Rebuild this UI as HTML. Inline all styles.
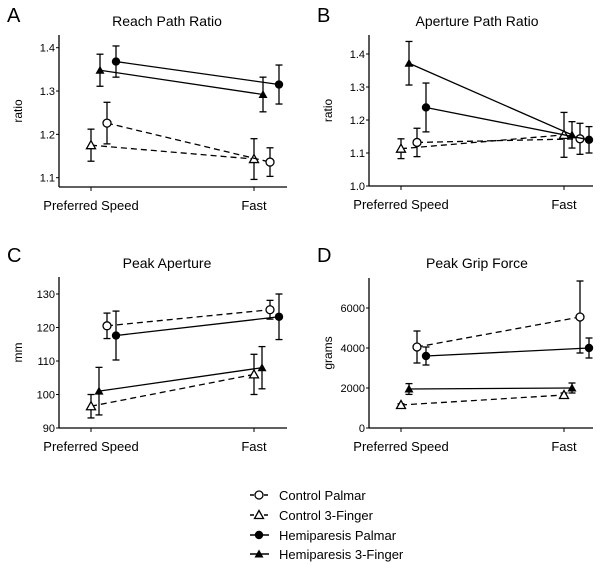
<!DOCTYPE html>
<html><head><meta charset="utf-8"><style>
body{margin:0;background:#fff;}
svg{display:block;font-family:"Liberation Sans",Arial,sans-serif;}
</style></head><body>
<svg id="fig" width="602" height="569" viewBox="0 0 602 569"></svg>
<script>
const categories = ["Preferred Speed","Fast"];
const seriesNames = ["Control Palmar","Control 3-Finger","Hemiparesis Palmar","Hemiparesis 3-Finger"];
// panel A
const aOpenCircle=[1.226,1.136], aOpenCircleErr=[0.048,0.033];
const aOpenTri=[1.175,1.143], aOpenTriErr=[0.037,0.047];
const aFilledCircle=[1.368,1.315], aFilledCircleErr=[0.036,0.045];
const aFilledTri=[1.348,1.292], aFilledTriErr=[0.037,0.04];
const aTicks=[1.1,1.2,1.3,1.4];
// panel B
const bOpenCircle=[1.132,1.143], bOpenCircleErr=[0.043,0.047];
const bOpenTri=[1.113,1.155], bOpenTriErr=[0.03,0.068];
const bFilledCircle=[1.238,1.14], bFilledCircleErr=[0.074,0.04];
const bFilledTri=[1.372,1.155], bFilledTriErr=[0.066,0.04];
const bTicks=[1.0,1.1,1.2,1.3,1.4];
// panel C
const cOpenCircle=[120.5,125.3], cOpenCircleErr=[3.8,2.8];
const cOpenTri=[96.5,106], cOpenTriErr=[3.5,6];
const cFilledCircle=[117.6,123.2], cFilledCircleErr=[7.3,6.8];
const cFilledTri=[101,108], cFilledTriErr=[7.1,6.3];
const cTicks=[90,100,110,120,130];
// panel D
const dOpenCircle=[4050,5550], dOpenCircleErr=[800,1800];
const dOpenTri=[1150,1650], dOpenTriErr=[60,100];
const dFilledCircle=[3600,4000], dFilledCircleErr=[450,500];
const dFilledTri=[1950,2000], dFilledTriErr=[270,250];
const dTicks=[0,2000,4000,6000];

const NS="http://www.w3.org/2000/svg";
const svg=document.getElementById('fig');
function mk(tag,attrs,parent,text){const e=document.createElementNS(NS,tag);for(const k in attrs)e.setAttribute(k,attrs[k]);if(text!==undefined)e.textContent=text;(parent||svg).appendChild(e);return e;}

function marker(g,type,x,y){
  if(type==='oc'){const e=mk('circle',{cx:x,cy:y,r:4,fill:'#fff',stroke:'#000','stroke-width':1.3},g);}
  else if(type==='fc'){mk('circle',{cx:x,cy:y,r:4.2,fill:'#000'},g);}
  else if(type==='ot'){mk('polygon',{points:`${x},${y-4.5} ${x-4.5},${y+3.5} ${x+4.5},${y+3.5}`,fill:'#fff',stroke:'#000','stroke-width':1.3},g);}
  else {mk('polygon',{points:`${x},${y-4.5} ${x-4.5},${y+3.5} ${x+4.5},${y+3.5}`,fill:'#000'},g);}
}

function panel(cfg){
  const g=mk('g',{});
  
  
  const y=v=>cfg.y0-(v-cfg.vmin)*(cfg.y1-cfg.y0)/(cfg.vmax-cfg.vmin)*-1;
  const Y=v=>cfg.yBot+(v-cfg.vBot)*(cfg.yRef-cfg.yBot)/(cfg.vRef-cfg.vBot);
  const t=mk('text',{x:cfg.letterX,y:cfg.letterY,'font-size':20},g,cfg.letter);
  
  const ti=mk('text',{x:cfg.titleX,y:cfg.titleY,'font-size':14,'text-anchor':'middle'},g,cfg.title);
  
  const yl=mk('text',{x:0,y:0,'font-size':12,'text-anchor':'middle',transform:`translate(${cfg.ax-37},${(cfg.yTop+cfg.yBot)/2}) rotate(-90)`},g,cfg.ylabel);
  
  mk('line',{x1:cfg.ax,y1:cfg.yTop,x2:cfg.ax,y2:cfg.yBot,stroke:'#000','stroke-width':1.3},g);
  mk('line',{x1:cfg.ax,y1:cfg.yBot,x2:cfg.ax+cfg.xLen,y2:cfg.yBot,stroke:'#000','stroke-width':1.3},g);
  cfg.ticks.forEach(v=>{
    const yy=Y(v);
    mk('line',{x1:cfg.ax-3,y1:yy,x2:cfg.ax,y2:yy,stroke:'#000'},g);
    const tl=mk('text',{x:cfg.ax-4,y:yy+4,'font-size':11,'text-anchor':'end'},g,cfg.fmt(v));
    
  });
  const cx=[cfg.cx0,cfg.cx1];
  categories.forEach((c,i)=>{
    mk('line',{x1:cx[i],y1:cfg.yBot,x2:cx[i],y2:cfg.yBot+4,stroke:'#000'},g);
    const cl=mk('text',{x:cx[i],y:cfg.yBot+23,'font-size':13,'text-anchor':'middle'},g,c);
    
  });
  cfg.series.forEach(s=>{
    const sg=mk('g',{},g);
    
    
    const px=cx.map(x=>x+s.off);
    const py=s.vals.map(Y);
    mk('line',{x1:px[0],y1:py[0],x2:px[1],y2:py[1],stroke:'#000','stroke-width':1.3,'stroke-dasharray':s.dash?'6,4':'none'},sg);
    s.vals.forEach((v,i)=>{
      const hi=Y(v+s.err[i]),lo=Y(v-s.err[i]);
      mk('line',{x1:px[i],y1:hi,x2:px[i],y2:lo,stroke:'#000','stroke-width':1.3},sg);
      mk('line',{x1:px[i]-3.5,y1:hi,x2:px[i]+3.5,y2:hi,stroke:'#000','stroke-width':1.3},sg);
      mk('line',{x1:px[i]-3.5,y1:lo,x2:px[i]+3.5,y2:lo,stroke:'#000','stroke-width':1.3},sg);
      marker(sg,s.type,px[i],py[i]);
    });
  });
}
const f1=v=>v.toFixed(1), f0=v=>String(v);
panel({name:'panel-a-reach-path-ratio',letter:'A',letterX:7,letterY:22,title:'Reach Path Ratio',titleX:167,titleY:26,ylabel:'ratio',
 ax:59,yTop:35,yBot:187,xLen:228,vBot:1.0785,vRef:1.4,yRef:47.7,ticks:aTicks,fmt:f1,cx0:91,cx1:254,
 series:[{key:'control-3-finger',type:'ot',dash:1,off:0,vals:aOpenTri,err:aOpenTriErr},
 {key:'hemiparesis-3-finger',type:'ft',dash:0,off:9,vals:aFilledTri,err:aFilledTriErr},
 {key:'control-palmar',type:'oc',dash:1,off:16,vals:aOpenCircle,err:aOpenCircleErr},
 {key:'hemiparesis-palmar',type:'fc',dash:0,off:25,vals:aFilledCircle,err:aFilledCircleErr}]});
panel({name:'panel-b-aperture-path-ratio',letter:'B',letterX:317,letterY:22,title:'Aperture Path Ratio',titleX:477,titleY:26,ylabel:'ratio',
 ax:369,yTop:35,yBot:186,xLen:224,vBot:1.0,vRef:1.4,yRef:54,ticks:bTicks,fmt:f1,cx0:401,cx1:564,
 series:[{key:'control-3-finger',type:'ot',dash:1,off:0,vals:bOpenTri,err:bOpenTriErr},
 {key:'hemiparesis-3-finger',type:'ft',dash:0,off:8,vals:bFilledTri,err:bFilledTriErr},
 {key:'control-palmar',type:'oc',dash:1,off:16,vals:bOpenCircle,err:bOpenCircleErr},
 {key:'hemiparesis-palmar',type:'fc',dash:0,off:25,vals:bFilledCircle,err:bFilledCircleErr}]});
panel({name:'panel-c-peak-aperture',letter:'C',letterX:7,letterY:262,title:'Peak Aperture',titleX:167,titleY:268,ylabel:'mm',
 ax:59,yTop:277,yBot:428,xLen:228,vBot:90,vRef:130,yRef:294,ticks:cTicks,fmt:f0,cx0:91,cx1:254,
 series:[{key:'control-3-finger',type:'ot',dash:1,off:0,vals:cOpenTri,err:cOpenTriErr},
 {key:'hemiparesis-3-finger',type:'ft',dash:0,off:8,vals:cFilledTri,err:cFilledTriErr},
 {key:'control-palmar',type:'oc',dash:1,off:16,vals:cOpenCircle,err:cOpenCircleErr},
 {key:'hemiparesis-palmar',type:'fc',dash:0,off:25,vals:cFilledCircle,err:cFilledCircleErr}]});
panel({name:'panel-d-peak-grip-force',letter:'D',letterX:317,letterY:262,title:'Peak Grip Force',titleX:477,titleY:268,ylabel:'grams',
 ax:369,yTop:278,yBot:428,xLen:224,vBot:0,vRef:6000,yRef:308,ticks:dTicks,fmt:f0,cx0:401,cx1:564,
 series:[{key:'control-3-finger',type:'ot',dash:1,off:0,vals:dOpenTri,err:dOpenTriErr},
 {key:'hemiparesis-3-finger',type:'ft',dash:0,off:8,vals:dFilledTri,err:dFilledTriErr},
 {key:'control-palmar',type:'oc',dash:1,off:16,vals:dOpenCircle,err:dOpenCircleErr},
 {key:'hemiparesis-palmar',type:'fc',dash:0,off:25,vals:dFilledCircle,err:dFilledCircleErr}]});

// legend
const lg=mk('g',{});


const legTypes=['oc','ot','fc','ft'], legDash=[1,1,0,0], legY=[495,515,535,554];
seriesNames.forEach((n,i)=>{
  const eg=mk('g',{},lg);
  
  
  mk('line',{x1:250,y1:legY[i],x2:269,y2:legY[i],stroke:'#000','stroke-width':1.5,'stroke-dasharray':legDash[i]?'4,3':'none'},eg);
  marker(eg,legTypes[i],259,legY[i]);
  mk('text',{x:279,y:legY[i]+5,'font-size':13},eg,n);
});
</script>
</body></html>
